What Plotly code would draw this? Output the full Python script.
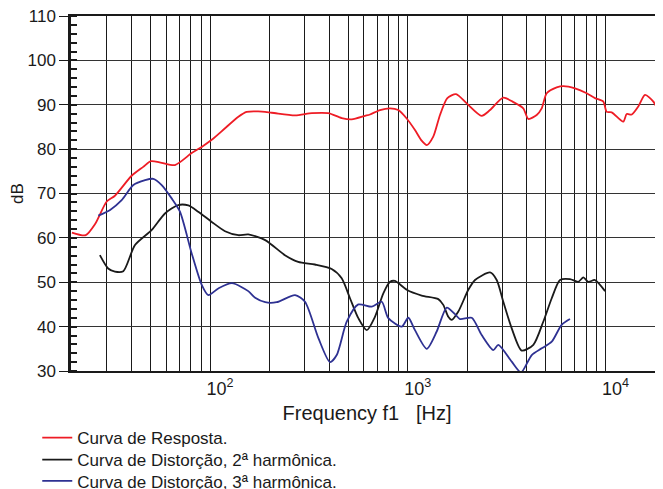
import plotly.graph_objects as go

# Frequency response (Curva de Resposta)
resp_freq = [20.0, 23.5, 26.2, 30.0, 33.0, 40.1, 45.9, 50.2, 56.9, 66.4, 80.7, 90.7, 101.9, 119, 139, 153,
             175, 205, 269, 327, 396, 463, 520, 608, 644, 723, 813, 895, 987, 1087, 1175, 1247, 1345,
             1455, 1585, 1754, 1986, 2364, 2606, 3041, 3418, 3837, 4070, 4487, 4755, 5043, 5663, 6117,
             7013, 8035, 8846, 9750, 10140, 10750, 12300, 12800, 13580, 14650, 15850, 17460, 19590]
resp_db = [61.2, 60.6, 63.1, 68.2, 69.5, 74.0, 76.0, 77.3, 76.9, 76.4, 79.1, 80.5, 82.1, 84.7, 87.3, 88.4,
           88.5, 88.2, 87.6, 88.1, 88.1, 87.0, 86.7, 87.5, 87.8, 88.8, 89.2, 88.8, 86.9, 84.3, 81.9, 80.9, 82.8,
           87.7, 91.5, 92.4, 90.3, 87.5, 88.8, 91.6, 90.6, 89.2, 86.8, 87.7, 89.2, 92.6, 93.9, 94.2,
           93.7, 92.6, 91.5, 90.7, 88.4, 88.3, 86.2, 87.9, 87.8, 89.6, 92.2, 90.7, 85.8]

# 2nd harmonic distortion
h2_freq = [27.7, 30.5, 33.0, 36.4, 41.7, 50.7, 59.1, 69.0, 77.6, 87.1, 101.9, 119, 139, 156, 190, 239,
           279, 339, 412, 463, 510, 562, 620, 682, 752, 813, 861, 987, 1175, 1426, 1512, 1603, 1667,
           1801, 2024, 2188, 2606, 2816, 3041, 3355, 3767, 4315, 4844, 5346, 5888, 6610, 7283, 7727,
           8186, 8846, 9950]
h2_db = [56.1, 53.1, 52.4, 52.5, 58.4, 61.8, 65.5, 67.4, 67.3, 65.9, 63.6, 61.5, 60.6, 60.8, 59.5, 56.1,
         54.6, 54.0, 53.0, 50.9, 46.4, 41.9, 39.2, 42.2, 47.5, 50.1, 50.3, 48.3, 47.0, 46.2, 44.9, 42.2, 41.5,
         43.4, 48.3, 50.5, 52.2, 50.5, 45.6, 39.6, 34.6, 35.9, 41.1, 46.4, 50.5, 50.7, 50.1, 51.1,
         50.1, 50.5, 48.0]

# 3rd harmonic distortion
h3_freq = [27.2, 31.2, 35.7, 40.9, 46.9, 51.6, 56.9, 63.9, 70.4, 80.7, 90.7, 97.9, 110, 129, 156, 169,
           190, 217, 269, 302, 353, 404, 437, 491, 562, 657, 738, 797, 931, 1006, 1087, 1247, 1400,
           1574, 1733, 1837, 2105, 2364, 2706, 2870, 3355, 3739, 4235, 4755, 5346, 6000, 6610]
h3_db = [65.0, 66.3, 68.5, 71.9, 73.0, 73.3, 71.9, 68.9, 65.9, 56.5, 49.4, 47.1, 48.6, 49.8, 48.0, 46.5,
         45.5, 45.5, 47.1, 45.6, 37.4, 32.0, 33.6, 41.1, 45.0, 44.5, 45.6, 41.9, 40.0, 42.0, 39.2, 35.0, 38.9,
         44.3, 42.8, 41.7, 42.0, 38.1, 34.7, 35.9, 32.1, 29.7, 33.6, 35.1, 36.6, 40.4, 41.7]

x_grid_vals = [30, 40, 50, 60, 70, 80, 90, 100, 200, 300, 400, 500, 600, 700, 800, 900,
               1000, 2000, 3000, 4000, 5000, 6000, 7000, 8000, 9000, 10000]
x_tick_labels = {100: "10<sup>2</sup>", 1000: "10<sup>3</sup>", 10000: "10<sup>4</sup>"}
y_tick_vals = [30, 40, 50, 60, 70, 80, 90, 100, 110]

series_names = ["Curva de Resposta.", "Curva de Distorção, 2ª harmônica.", "Curva de Distorção, 3ª harmônica."]
series_colors = ["#ee1c25", "#1a1a1a", "#2e3192"]
legend_ids = ["legend", "legend2", "legend3"]
legend_y = [-0.189, -0.251, -0.311]

FONT = "Liberation Sans, Arial, sans-serif"
FS = 17

fig = go.Figure()
for name, xs, ys, col, lg in zip(series_names, [resp_freq, h2_freq, h3_freq], [resp_db, h2_db, h3_db],
                                 series_colors, legend_ids):
    fig.add_trace(go.Scatter(x=xs, y=ys, mode="lines", name=name, legend=lg,
                             line=dict(color=col, width=1.8, shape="spline", smoothing=0.7)))

legend_style = dict(x=-0.057, xanchor="left", yanchor="middle", orientation="v",
                    font=dict(family=FONT, size=FS, color="#1a1a1a"), bgcolor="rgba(0,0,0,0)")

# the page body adds an 8px offset, so the figure is drawn 8px smaller with 8px less margin
fig.update_layout(
    width=655, height=481,
    margin=dict(l=63, r=0, t=8, b=118, autoexpand=False),
    paper_bgcolor="white", plot_bgcolor="white",
    font=dict(family=FONT, size=FS, color="#1a1a1a"),
    showlegend=True,
    legend=dict(y=legend_y[0], **legend_style),
    legend2=dict(y=legend_y[1], **legend_style),
    legend3=dict(y=legend_y[2], **legend_style),
)
fig.update_xaxes(
    type="log", range=[1.2964, 4.2908], automargin=False,
    tickmode="array", tickvals=x_grid_vals,
    ticktext=[x_tick_labels.get(v, "") for v in x_grid_vals],
    showgrid=True, gridcolor="#1a1a1a", gridwidth=1.3,
    showline=True, linecolor="#1a1a1a", linewidth=2, mirror=True,
    ticks="", ticklabelshift=10, ticklabeloverflow="allow",
    tickfont=dict(family=FONT, size=18, color="#1a1a1a"),
    title=dict(text="Frequency f1&nbsp;&nbsp;&nbsp;[Hz]", font=dict(family=FONT, size=20, color="#1a1a1a"),
               standoff=8),
    zeroline=False,
)
fig.update_yaxes(
    range=[30, 110], tickmode="array", tickvals=y_tick_vals, automargin=False,
    showgrid=True, gridcolor="#333333", gridwidth=1.3,
    showline=True, linecolor="#1a1a1a", linewidth=2.5, mirror=False,
    ticks="outside", ticklen=9, tickwidth=1, tickcolor="#1a1a1a", ticklabeloverflow="allow",
    minor=dict(dtick=2, ticks="inside", ticklen=6, tickwidth=1.5, tickcolor="#1a1a1a", showgrid=False),
    tickfont=dict(family=FONT, size=FS, color="#1a1a1a"),
    title=dict(text="dB", font=dict(family=FONT, size=FS, color="#1a1a1a"), standoff=15),
    zeroline=False,
)

fig.write_html("out.html")
